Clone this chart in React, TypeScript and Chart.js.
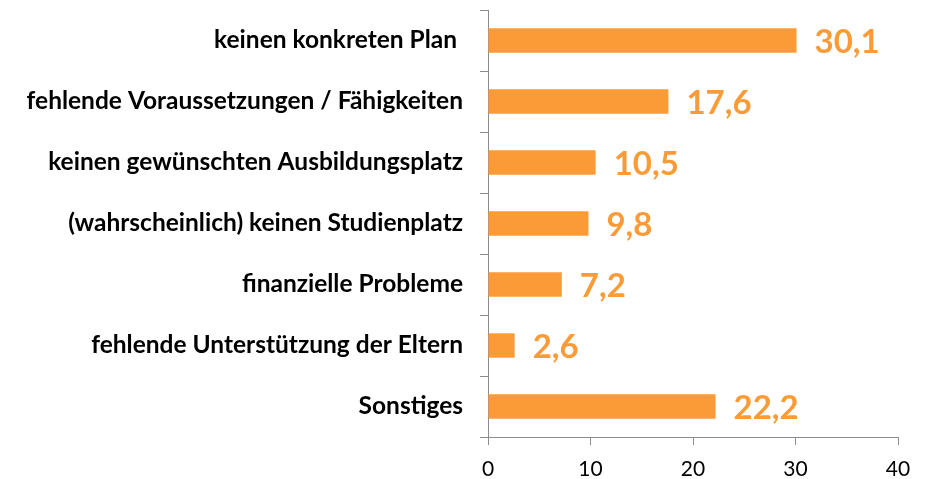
import React, { useEffect, useRef } from "react";
import { Chart, registerables } from "chart.js";

Chart.register(...registerables);

const categories = [
  "keinen konkreten Plan ",
  "fehlende Voraussetzungen / Fähigkeiten",
  "keinen gewünschten Ausbildungsplatz",
  "(wahrscheinlich) keinen Studienplatz",
  "finanzielle Probleme",
  "fehlende Unterstützung der Eltern",
  "Sonstiges",
];
const values = [30.1, 17.6, 10.5, 9.8, 7.2, 2.6, 22.2];
const xTicks = [0, 10, 20, 30, 40];

const ORANGE = "rgb(250,155,56)";
const FONT = "Lato, 'Open Sans', sans-serif";

const valueLabels = {
  id: "valueLabels",
  afterDatasetsDraw(chart: any) {
    const ctx = chart.ctx;
    const meta = chart.getDatasetMeta(0);
    ctx.save();
    ctx.fillStyle = ORANGE;
    ctx.font = `bold 33px ${FONT}`;
    ctx.textAlign = "left";
    ctx.textBaseline = "middle";
    meta.data.forEach((bar: any, i: number) => {
      const txt = values[i].toFixed(1).replace(".", ",");
      ctx.fillText(txt, bar.x + 18, bar.y + 2);
    });
    ctx.restore();
  },
};

export default function App() {
  const ref = useRef<HTMLCanvasElement>(null);
  useEffect(() => {
    document.body.style.margin = "0";
    const chart = new Chart(ref.current!, {
      type: "bar",
      data: {
        labels: categories,
        datasets: [
          {
            data: values,
            backgroundColor: ORANGE,
            borderWidth: 0,
            categoryPercentage: 0.4,
            barPercentage: 1,
          },
        ],
      },
      plugins: [valueLabels],
      options: {
        indexAxis: "y",
        animation: false,
        responsive: false,
        layout: { padding: { top: 10, right: 30, left: 0, bottom: 0 } },
        plugins: { legend: { display: false }, tooltip: { enabled: false } },
        scales: {
          y: {
            type: "category",
            offset: true,
            grid: {
              offset: true,
              drawOnChartArea: false,
              tickLength: 8,
              color: "#8c8c8c",
            },
            border: { color: "#8c8c8c", width: 1 },
            ticks: {
              color: "#000",
              font: { family: FONT, size: 24.5, weight: "bold" },
              padding: 17,
            },
            afterFit: (s: any) => {
              s.width = 488;
              s.paddingTop = 0;
              s.paddingBottom = 0;
            },
          },
          x: {
            type: "linear",
            min: 0,
            max: 40,
            afterBuildTicks: (s: any) => {
              s.ticks = xTicks.map((v) => ({ value: v }));
            },
            grid: {
              drawOnChartArea: false,
              tickLength: 8,
              color: "#8c8c8c",
            },
            border: { color: "#8c8c8c", width: 1 },
            ticks: {
              color: "#000",
              font: { family: FONT, size: 21 },
              padding: 12,
            },
            afterFit: (s: any) => {
              s.height = 42;
              s.paddingLeft = 0;
              s.paddingRight = 0;
            },
          },
        },
      },
    });
    return () => chart.destroy();
  }, []);
  return (
    <div style={{ position: "absolute", left: 0, top: 0, width: 928, height: 479 }}>
      <canvas ref={ref} width={928} height={479} />
    </div>
  );
}
